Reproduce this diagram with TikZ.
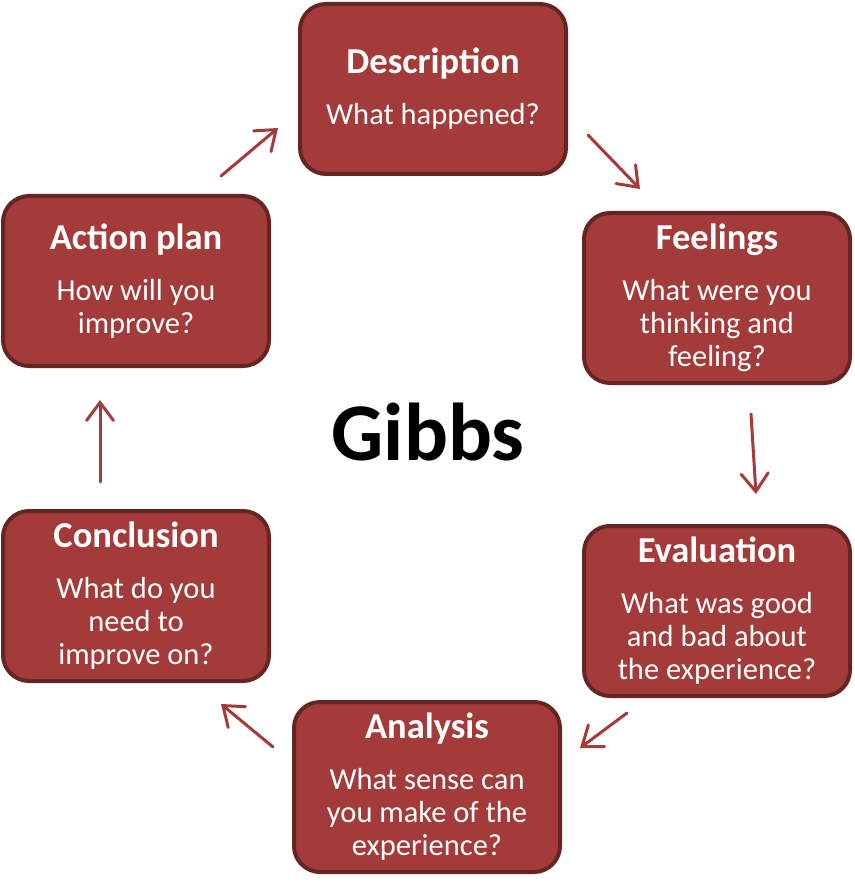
\documentclass[tikz,border=0pt]{standalone}
\usepackage{fontspec}
\setmainfont{Carlito}
\usetikzlibrary{arrows.meta}
\definecolor{boxfill}{HTML}{A33B3A}
\definecolor{boxline}{HTML}{652523}
\definecolor{arrowc}{HTML}{A33B3A}
\tikzset{
  stagebox/.style={draw=boxline, line width=4pt, fill=boxfill, rounded corners=26pt,
    minimum width=266pt, minimum height=170pt, inner sep=0pt, text=white, align=center,
    font=\fontsize{30.5}{33}\selectfont},
  flowarrow/.style={draw=arrowc, line width=3pt, line cap=round,
    -{Straight Barb[length=18pt,width=27pt,line cap=round]}},
}
\newcommand{\ttl}[1]{{\fontsize{36.5}{40}\selectfont\bfseries #1}\\[18pt]}
\begin{document}
\begin{tikzpicture}[x=1pt,y=-1pt]
\useasboundingbox (0,0) rectangle (854,885);
\node[stagebox] (desc) at (433,89) {\ttl{Description}What happened?};
\node[stagebox] (feel) at (717,298) {\ttl{Feelings}What were you\\thinking and\\feeling?};
\node[stagebox] (eval) at (717,611) {\ttl{Evaluation}What was good\\and bad about\\the experience?};
\node[stagebox] (anal) at (427,787) {\ttl{Analysis}What sense can\\you make of the\\experience?};
\node[stagebox] (conc) at (136,596) {\ttl{Conclusion}What do you\\need to\\improve on?};
\node[stagebox] (act) at (136,281) {\ttl{Action plan}How will you\\improve?};
\node[font=\fontsize{82}{90}\selectfont\bfseries, anchor=base] (gibbs) at (428,460) {Gibbs};
\coordinate (a1s) at (588,135); \coordinate (a1e) at (640,189);
\coordinate (a2s) at (751,414); \coordinate (a2e) at (756,494);
\coordinate (a3s) at (627,713); \coordinate (a3e) at (580,748);
\coordinate (a4s) at (273,747); \coordinate (a4e) at (221,704);
\coordinate (a5s) at (100,482); \coordinate (a5e) at (100,400);
\coordinate (a6s) at (221,176); \coordinate (a6e) at (278,128);
\draw[flowarrow] (a1s) -- (a1e);
\draw[flowarrow] (a2s) -- (a2e);
\draw[flowarrow] (a3s) -- (a3e);
\draw[flowarrow] (a4s) -- (a4e);
\draw[flowarrow] (a5s) -- (a5e);
\draw[flowarrow] (a6s) -- (a6e);
\end{tikzpicture}
\end{document}
